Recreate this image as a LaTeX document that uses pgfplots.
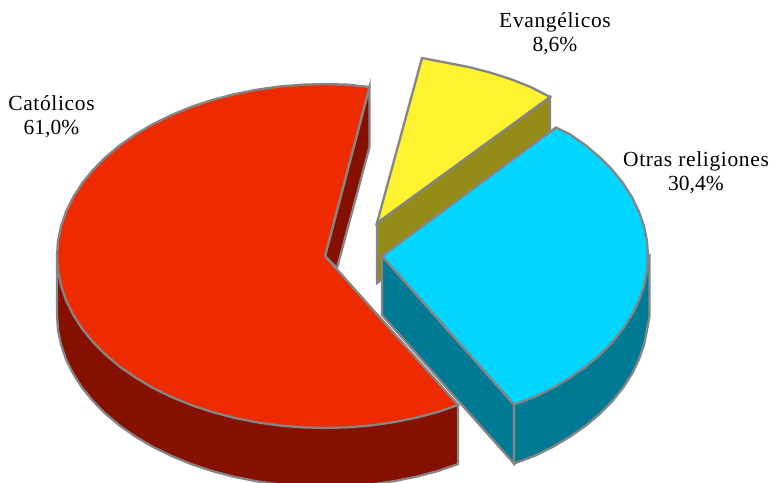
\documentclass[border=0pt]{standalone}
\usepackage{pgfplots}
\pgfplotsset{compat=1.18}
\usepackage{fontspec}
\setmainfont{Liberation Serif}
\newfontfamily\wordfont[LetterSpace=3]{Liberation Serif}
\definecolor{edge}{HTML}{858585}
\definecolor{redtop}{HTML}{EE2A00}
\definecolor{redside}{HTML}{851000}
\definecolor{yeltop}{HTML}{FFF22E}
\definecolor{yelside}{HTML}{948B18}
\definecolor{blutop}{HTML}{00D6FF}
\definecolor{bluside}{HTML}{007A94}
\pgfplotsset{slice/.style={draw=edge,line width=2.3bp,line join=miter,mark=none,fill=#1}}
\begin{document}
\begin{tikzpicture}
\begin{axis}[
  name=pie,
  scale only axis,width=772bp,height=483bp,
  xmin=0,xmax=772,ymin=0,ymax=483,y dir=reverse,
  axis lines=none,ticks=none,clip=true]

% Evangélicos 8,6 %: pulled-out slice, cut face then top
\addplot[slice=yelside] coordinates {(377,223)(550,97)(550,157)(377,283)} --cycle;
\addplot[slice=yeltop] coordinates {(377,223)(422,58)(446.4,62.7)(468.7,67)(490.3,72.6)(511,79.2)(530.7,87)(550,97)} --cycle;

% Católicos 61,0 %: cut face, rim, top
\addplot[slice=redside] coordinates {(325,256)(369.5,87)(369.5,147)(337,268)} --cycle;
\addplot[slice=redside] coordinates {(57,256)(57,315)(58,330)(61.1,344.9)(66.1,359.5)(73.2,373.8)(82.1,387.7)(92.9,401)(105.5,413.7)(119.7,425.6)(135.5,436.6)(152.7,446.8)(171.3,455.9)(191,464)(211.7,470.9)(233.3,476.6)(255.6,481.1)(278.5,484.4)(301.6,486.3)(325,487)(348.4,486.3)(371.5,484.4)(394.4,481.1)(416.7,476.6)(438.3,470.9)(458,464)(458,405)} --cycle;
\addplot[slice=redtop] coordinates {(325,256)(369.5,87)(348.4,84.7)(325,84)(301.6,84.7)(278.5,86.6)(255.6,89.9)(233.3,94.4)(211.7,100.1)(191,107)(171.3,115.1)(152.7,124.2)(135.5,134.4)(119.7,145.4)(105.5,157.3)(92.9,170)(82.1,183.3)(73.2,197.2)(66.1,211.5)(61.1,226.1)(58,241)(57,256)(58,271)(61.1,285.9)(66.1,300.5)(73.2,314.8)(82.1,328.7)(92.9,342)(105.5,354.7)(119.7,366.6)(135.5,377.6)(152.7,387.8)(171.3,396.9)(191,405)(211.7,411.9)(233.3,417.6)(255.6,422.1)(278.5,425.4)(301.6,427.3)(325,428)(348.4,427.3)(371.5,425.4)(394.4,422.1)(416.7,417.6)(438.3,411.9)(458,405)} --cycle;

% Otras religiones 30,4 %: cut face, rim, top
\addplot[slice=bluside] coordinates {(382,256)(514,404.5)(514,463.5)(382,315)} --cycle;
\addplot[slice=bluside] coordinates {(649.5,256)(649.5,316)(647,330)(644,344.9)(638.9,359.5)(632,373.8)(623.1,387.7)(612.4,401)(599.9,413.7)(585.8,425.6)(570.1,436.6)(553,446.8)(534.6,455.9)(514,463.5)(514,404.5)} --cycle;
\addplot[slice=blutop] coordinates {(382,256)(556,127.5)(570.1,134.4)(585.8,145.4)(599.9,157.3)(612.4,170)(623.1,183.3)(632,197.2)(638.9,211.5)(644,226.1)(647,241)(648,256)(647,271)(644,285.9)(638.9,300.5)(632,314.8)(623.1,328.7)(612.4,342)(599.9,354.7)(585.8,366.6)(570.1,377.6)(553,387.8)(534.6,396.9)(514,404.5)} --cycle;

\node[font=\fontsize{21.5bp}{24bp}\selectfont,align=center] at (axis cs:51.5,117) {{\wordfont Católicos}\\61,0\%};
\node[font=\fontsize{21.5bp}{24bp}\selectfont,align=center] at (axis cs:555,34) {{\wordfont Evangélicos}\\8,6\%};
\node[font=\fontsize{21.5bp}{24bp}\selectfont,align=center] at (axis cs:696,173) {{\wordfont Otras religiones}\\30,4\%};
\end{axis}
% the page covers the whole plotting rectangle
\path[use as bounding box] (pie.south west) rectangle (pie.north east);
\end{tikzpicture}
\end{document}
